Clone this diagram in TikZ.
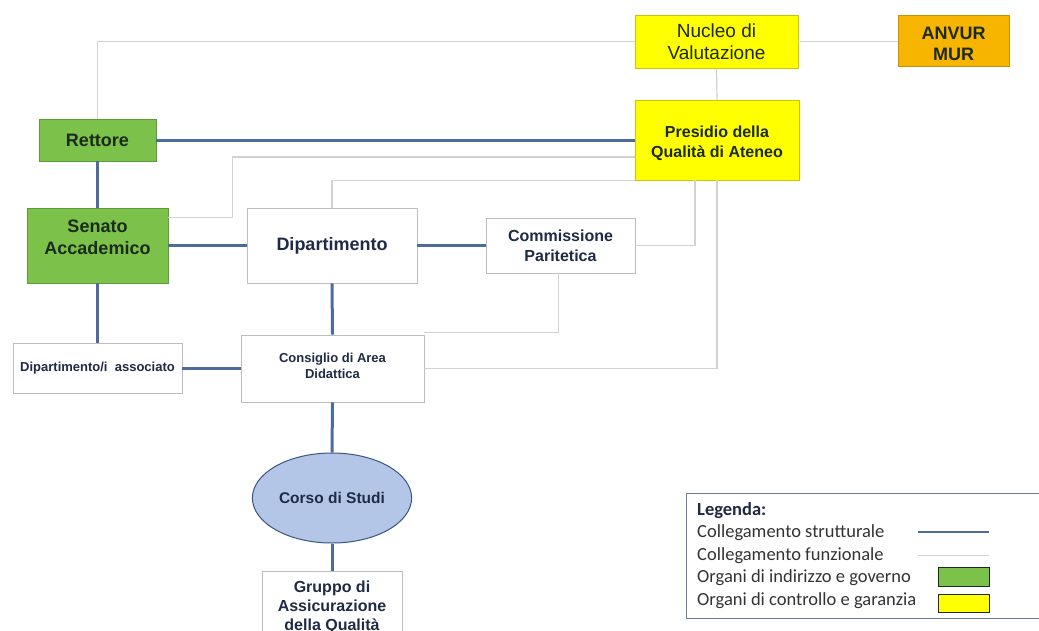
\documentclass[tikz,border=0pt]{standalone}
\usepackage{fontspec}
\setmainfont{Liberation Sans}
\newfontfamily\legendfont{Carlito}
\usetikzlibrary{shapes.geometric}
\definecolor{strcol}{HTML}{4D6C9C}
\definecolor{funcol}{HTML}{D2D2D2}
\definecolor{govgreen}{HTML}{7CC24A}
\definecolor{govborder}{HTML}{5E9A38}
\definecolor{ctrlyellow}{HTML}{FFFF00}
\definecolor{ctrlborder}{HTML}{C8C800}
\definecolor{anvurorange}{HTML}{F7B500}
\definecolor{anvurborder}{HTML}{C99000}
\definecolor{txtcol}{HTML}{1F2A44}
\definecolor{darktxt}{HTML}{1C2A1C}
\definecolor{ellfill}{HTML}{B4C6E7}
\definecolor{ellborder}{HTML}{3A5583}
\definecolor{boxborder}{HTML}{BDBDBD}
\definecolor{legborder}{HTML}{6A7B96}
\definecolor{legtxt}{HTML}{333333}
\tikzset{
  orgbox/.style={draw=boxborder, line width=0.8pt, fill=white, rectangle, align=center, inner sep=2pt, text=txtcol},
  govbox/.style={orgbox, draw=govborder, fill=govgreen, text=darktxt},
  ctrlbox/.style={orgbox, draw=ctrlborder, fill=ctrlyellow, text=darktxt},
  extbox/.style={orgbox, draw=anvurborder, fill=anvurorange, text=darktxt},
  strline/.style={draw=strcol, line width=3pt},
  funline/.style={draw=funcol, line width=1.2pt},
  legtext/.style={anchor=west, inner sep=0pt, text=legtxt, font={\legendfont\fontsize{18.5}{20}\selectfont}},
  big/.style={font={\fontsize{18}{22}\selectfont\bfseries}},
  mid/.style={font={\fontsize{16}{20}\selectfont\bfseries}},
  small/.style={font={\fontsize{13}{16}\selectfont\bfseries}},
  inlabel/.style={align=center, inner sep=0pt}
}
\begin{document}
\begin{tikzpicture}[x=1pt,y=-1pt]
\useasboundingbox (0,0) rectangle (1039,630);
\clip (0,0) rectangle (1039,630);
\fill[white] (0,0) rectangle (1039,630);

% nodes
\node[ctrlbox, minimum width=163pt, minimum height=53pt, font={\fontsize{19}{22}\selectfont}] (nucleo) at (716.5,41.5) {Nucleo di\\Valutazione};
\node[extbox, minimum width=111pt, minimum height=51pt,
      label={[inlabel, text=darktxt, font={\fontsize{18}{21}\selectfont\bfseries}, yshift=-3pt]center:{ANVUR\\MUR}}] (anvur) at (953.5,40.5) {};
\node[ctrlbox, minimum width=164pt, minimum height=80pt,
      label={[inlabel, text=darktxt, font={\fontsize{16}{20}\selectfont\bfseries}, yshift=-3pt]center:{Presidio della\\Qualità di Ateneo}}] (presidio) at (717,140) {};
\node[govbox, big, minimum width=117pt, minimum height=42pt] (rettore) at (97.5,140) {Rettore};
\node[govbox, minimum width=141pt, minimum height=75pt,
      label={[inlabel, text=darktxt, font={\fontsize{18}{22}\selectfont\bfseries}, yshift=8pt]center:{Senato\\Accademico}}] (senato) at (97.5,245.5) {};
\node[orgbox, big, minimum width=170pt, minimum height=75pt] (dip) at (332,245.5) {Dipartimento};
\node[orgbox, mid, minimum width=149pt, minimum height=55pt] (comm) at (560.5,245.5) {Commissione\\Paritetica};
\node[orgbox, minimum width=183pt, minimum height=67pt,
      label={[inlabel, text=txtcol, font={\fontsize{13}{16}\selectfont\bfseries}, yshift=3pt]center:{Consiglio di Area\\Didattica}}] (cad) at (332.5,368.5) {};
\node[orgbox, small, minimum width=169pt, minimum height=50pt] (dipass) at (97.5,368) {Dipartimento/i\ \ associato};
\node[ellipse, draw=ellborder, line width=1pt, fill=ellfill, text=txtcol, minimum width=156pt, minimum height=90pt, font={\fontsize{15.5}{18}\selectfont\bfseries}] (corso) at (332,498) {Corso di Studi};
\node[orgbox, anchor=north, minimum width=140pt, inner ysep=9pt, font={\fontsize{16}{19.3}\selectfont\bfseries}] (gaq) at (332,571) {Gruppo di\\Assicurazione\\della Qualità};

% structural links
\draw[strline] (rettore.east) -- (presidio.west);
\draw[strline] (rettore.south) -- (senato.north);
\draw[strline] (senato.east) -- (dip.west);
\draw[strline] (dip.east) -- (comm.west);
\draw[strline] (senato.south) -- (dipass.north);
\draw[strline] (dipass.east) -- (cad.west |- dipass.east);
\draw[strline] (dip.south) -- (cad.north);
\draw[strline] (cad.south) -- (corso.north);
\draw[strline] (corso.south) -- (gaq.north);

% functional links
\draw[funline] (rettore.north) |- (nucleo.west);
\draw[funline] (nucleo.east) -- (anvur.west |- nucleo.east);
\draw[funline] (nucleo.south) -- (presidio.north);
\draw[funline] ([yshift=-10pt]senato.north east) -- ++(64,0) |- ([yshift=-17pt]presidio.west);
\draw[funline] (dip.north) |- (presidio.south west);
\draw[funline] (comm.east) -| ([xshift=-22pt]presidio.south);
\draw[funline] (presidio.south) |- (cad.east);
\draw[funline] ([xshift=-2pt]comm.south) |- ([yshift=2pt]cad.north east);

% legend
\node[draw=legborder, line width=0.8pt, fill=white, rectangle, anchor=north west, minimum width=370pt, minimum height=125pt] (legend) at (686,493) {};
\node[legtext, font={\legendfont\fontsize{18.5}{20}\selectfont\bfseries}, text=txtcol] (legtitle) at (697,511) {Legenda:};
\node[legtext] (leg1) at (697,533) {Collegamento strutturale};
\node[legtext] (leg2) at (697,556) {Collegamento funzionale};
\node[legtext] (leg3) at (697,578) {Organi di indirizzo e governo};
\node[legtext] (leg4) at (697,601) {Organi di controllo e garanzia};
\coordinate (s1a) at (918,532);
\coordinate (s1b) at (989,532);
\coordinate (s2a) at (918,555);
\coordinate (s2b) at (989,555);
\draw[draw=strcol, line width=2.5pt] (s1a) -- (s1b);
\draw[draw=funcol, line width=1pt] (s2a) -- (s2b);
\node[draw=darktxt, line width=1pt, fill=govgreen, minimum width=51pt, minimum height=19pt, inner sep=0pt] (sw1) at (963.5,576.5) {};
\node[draw=darktxt, line width=1pt, fill=ctrlyellow, minimum width=51pt, minimum height=18pt, inner sep=0pt] (sw2) at (963.5,603) {};
\end{tikzpicture}
\end{document}
